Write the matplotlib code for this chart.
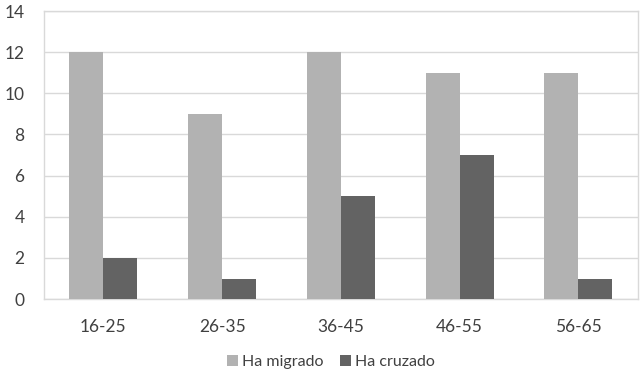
import matplotlib.pyplot as plt
import numpy as np

categories = ["16-25", "26-35", "36-45", "46-55", "56-65"]
ha_migrado = [12, 9, 12, 11, 11]
ha_cruzado = [2, 1, 5, 7, 1]
yticks = [0, 2, 4, 6, 8, 10, 12, 14]

plt.rcParams["font.family"] = ["Lato", "DejaVu Sans"]
text_color = "#404040"
grid_color = "#D9D9D9"

fig = plt.figure(figsize=(6.43, 3.73), dpi=100)
ax = fig.add_axes([0.0684, 0.198, 0.9236, 0.7725])

x = np.arange(len(categories))
w = 0.286
ax.bar(x - w / 2, ha_migrado, w, color="#B2B2B2", label="Ha migrado", zorder=3)
ax.bar(x + w / 2, ha_cruzado, w, color="#636363", label="Ha cruzado", zorder=3)

ax.set_xlim(-0.5, len(categories) - 0.5)
ax.set_ylim(0, 14)
ax.set_yticks(yticks)
ax.set_xticks(x)
ax.set_xticklabels(categories)
ax.grid(axis="y", color=grid_color, linewidth=1, zorder=0)

for side in ["left", "right", "top", "bottom"]:
    ax.spines[side].set_color(grid_color)
    ax.spines[side].set_linewidth(1)

ax.tick_params(axis="both", length=0, labelsize=12.5, labelcolor=text_color)
ax.tick_params(axis="y", pad=14)
ax.tick_params(axis="x", pad=14)

fig.legend(loc="center", bbox_to_anchor=(0.515, 0.03), ncol=2, frameon=False,
           fontsize=11.5, labelcolor=text_color, handlelength=0.7, handleheight=0.7,
           handletextpad=0.25, columnspacing=1.0)

fig.savefig("out.png", dpi=100)
